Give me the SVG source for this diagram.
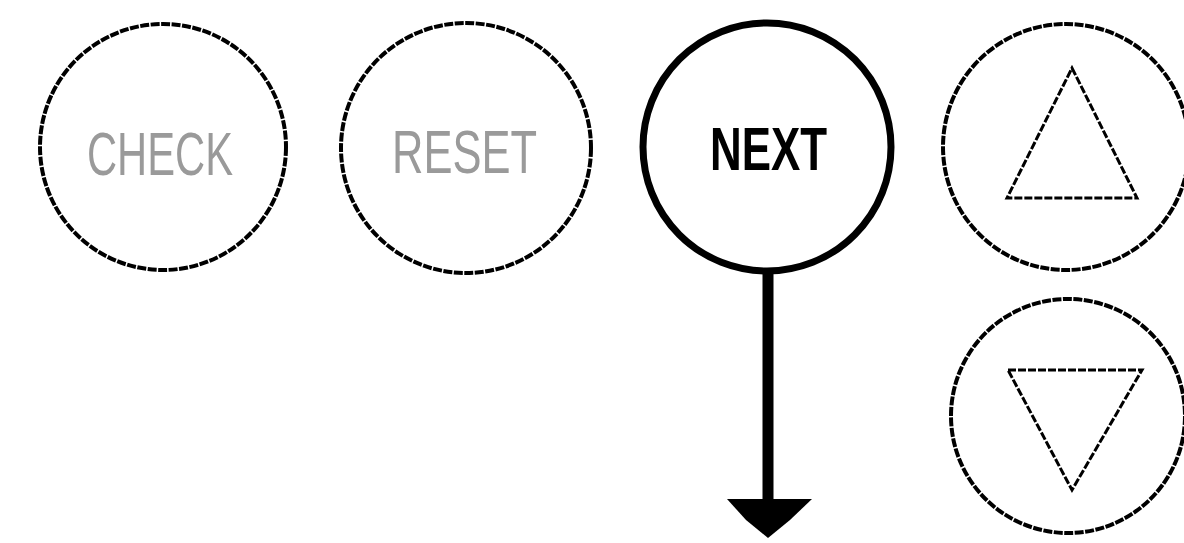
<svg xmlns="http://www.w3.org/2000/svg" width="1184" height="543" viewBox="0 0 1184 543">
<style>
.btn{fill:#fff;stroke:#000;stroke-width:4;stroke-dasharray:9 1.5}
.act{fill:#fff;stroke:#000;stroke-width:7}
.lbl{font-family:"Liberation Sans",Arial,sans-serif;font-size:62px;text-anchor:start}
.dim{fill:#9a9a9a}
.on{fill:#000;font-weight:bold}
.tri{fill:none;stroke:#000;stroke-width:3;stroke-dasharray:8 2;stroke-linejoin:miter}
</style>
<rect width="1184" height="543" fill="#fff"/>
<g id="btn-check">
<circle class="btn" cx="163" cy="147" r="123"/>
<text class="lbl dim" x="87" y="175" textLength="146" lengthAdjust="spacingAndGlyphs">CHECK</text>
</g>
<g id="btn-reset">
<circle class="btn" cx="466" cy="148" r="125"/>
<text class="lbl dim" x="392" y="173" textLength="145" lengthAdjust="spacingAndGlyphs">RESET</text>
</g>
<g id="btn-next">
<circle class="act" cx="767" cy="147" r="124"/>
<text class="lbl on" x="710" y="170" textLength="117" lengthAdjust="spacingAndGlyphs">NEXT</text>
</g>
<g id="btn-up">
<circle class="btn" cx="1066" cy="147" r="123"/>
<polygon class="tri" points="1072,68 1137,198 1007,198"/>
</g>
<g id="btn-down">
<circle class="btn" cx="1068" cy="416" r="117"/>
<polygon class="tri" points="1008,370 1142,370 1072,490"/>
</g>
<g id="connectors">
<line x1="768" y1="272" x2="768" y2="502" stroke="#000" stroke-width="11"/>
<polygon points="727,499 812,499 790,520 768,538 746,520" fill="#000"/>
</g>
</svg>
